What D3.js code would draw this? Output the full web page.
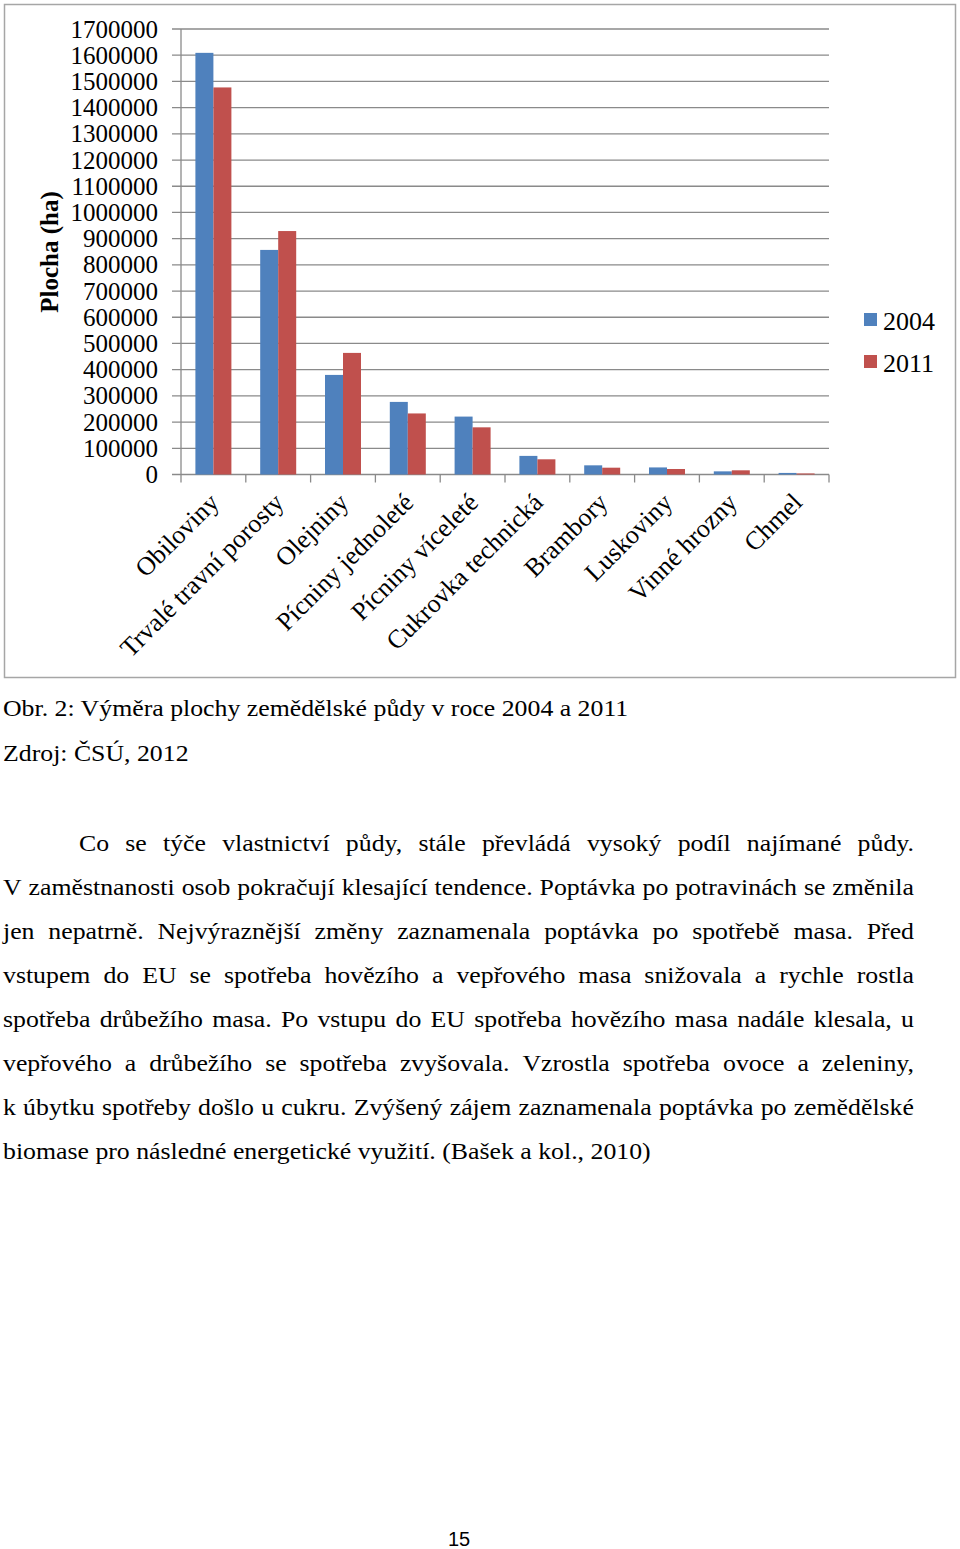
<!DOCTYPE html>
<html><head><meta charset="utf-8">
<script src="https://cdn.jsdelivr.net/npm/d3@7"></script>
<style>html,body{margin:0;padding:0;background:#fff;}svg{display:block;}</style>
</head><body>
<svg id="c" width="960" height="1549"></svg>
<script>
const categories = ["Obiloviny","Trvalé travní porosty","Olejniny","Pícniny jednoleté","Pícniny víceleté","Cukrovka technická","Brambory","Luskoviny","Vinné hrozny","Chmel"];
const series2004 = [1609000, 857000, 380000, 277000, 221000, 71000, 35000, 27000, 12000, 6000];
const series2011 = [1477000, 929000, 464000, 233000, 180000, 58000, 26000, 21000, 16000, 4000];
const seriesNames = ["2004","2011"];
const seriesColors = ["#4F81BD","#C0504D"];
const yTicks = d3.range(0, 1700001, 100000);
const yLabel = "Plocha (ha)";
const caption1 = "Obr. 2: Výměra plochy zemědělské půdy v roce 2004 a 2011";
const caption2 = "Zdroj: ČSÚ, 2012";
const paragraph = [
 "Co se týče vlastnictví půdy, stále převládá vysoký podíl najímané půdy.",
 "V zaměstnanosti osob pokračují klesající tendence. Poptávka po potravinách se změnila",
 "jen nepatrně. Nejvýraznější změny zaznamenala poptávka po spotřebě masa. Před",
 "vstupem do EU se spotřeba hovězího a vepřového masa snižovala a rychle rostla",
 "spotřeba drůbežího masa. Po vstupu do EU spotřeba hovězího masa nadále klesala, u",
 "vepřového a drůbežího se spotřeba zvyšovala. Vzrostla spotřeba ovoce a zeleniny,",
 "k úbytku spotřeby došlo u cukru. Zvýšený zájem zaznamenala poptávka po zemědělské",
 "biomase pro následné energetické využití. (Bašek a kol., 2010)"
];
const pageNumber = "15";

const svg = d3.select("#c");
const serif = "'Liberation Serif','Times New Roman',serif";
const SX = 1.075;

// chart frame
svg.append("rect").attr("x",4.5).attr("y",4.5).attr("width",951).attr("height",673)
  .attr("fill","#fff").attr("stroke","#a6a6a6").attr("stroke-width",1.5);

const x0 = 181, x1 = 829, yTop = 29, yBot = 474.5;
const x = d3.scaleBand().domain(categories).range([x0, x1]).paddingInner(0).paddingOuter(0);
const y = d3.scaleLinear().domain([0, 1700000]).range([yBot, yTop]);
const groupW = 36;
const xs = d3.scaleBand().domain(seriesNames).range([0, groupW]);

// grid
const g = svg.append("g");
g.selectAll("line.grid").data(yTicks).join("line")
  .attr("x1", x0 - 9).attr("x2", x1).attr("y1", d => y(d)).attr("y2", d => y(d))
  .attr("stroke", "#8a8a8a").attr("stroke-width", 1.3);

// bars
const data = categories.map((c,i) => ({c, v:[series2004[i], series2011[i]]}));
const grp = g.selectAll("g.cat").data(data).join("g")
  .attr("transform", d => `translate(${x(d.c) + (x.bandwidth()-groupW)/2},0)`);
grp.selectAll("rect").data(d => d.v.map((v,j)=>({v, s:seriesNames[j], j}))).join("rect")
  .attr("x", d => xs(d.s)).attr("width", xs.bandwidth())
  .attr("y", d => y(d.v)).attr("height", d => y(0) - y(d.v))
  .attr("fill", d => seriesColors[d.j]);

// y axis line
g.append("line").attr("x1", x0).attr("x2", x0).attr("y1", yTop).attr("y2", yBot)
  .attr("stroke", "#8a8a8a").attr("stroke-width", 1.3);
// x axis ticks
const xt = categories.map(c => x(c)).concat([x1]);
g.selectAll("line.xt").data(xt).join("line")
  .attr("x1", d => d).attr("x2", d => d).attr("y1", yBot).attr("y2", yBot + 8)
  .attr("stroke", "#8a8a8a").attr("stroke-width", 1.3);

// y tick labels
g.selectAll("text.yt").data(yTicks).join("text")
  .attr("x", 158).attr("y", d => y(d)).attr("dy", "0.34em")
  .attr("text-anchor", "end").attr("font-family", serif).attr("font-size", 25)
  .attr("fill", "#000").text(d => d);

// y label
svg.append("text").attr("transform", "translate(58,252) rotate(-90)")
  .attr("text-anchor", "middle").attr("font-family", serif).attr("font-size", 25)
  .attr("font-weight", "bold").text(yLabel);

// x labels
g.selectAll("text.xl").data(categories).join("text")
  .attr("transform", d => `translate(${x(d) + x.bandwidth()/2 + 7},504) rotate(-45)`)
  .attr("text-anchor", "end").attr("font-family", serif).attr("font-size", 26)
  .text(d => d);

// legend
const lg = svg.append("g");
seriesNames.forEach((s,i) => {
  lg.append("rect").attr("x", 864).attr("y", 313 + i*42).attr("width", 13).attr("height", 13).attr("fill", seriesColors[i]);
  lg.append("text").attr("x", 883).attr("y", 330 + i*42).attr("font-family", serif).attr("font-size", 26).text(s);
});

// captions (horizontally stretched like the scanned page)
svg.append("text").attr("transform", `translate(3,716) scale(${SX},1)`).attr("font-family", serif).attr("font-size", 24).text(caption1);
svg.append("text").attr("transform", `translate(3,761) scale(${SX},1)`).attr("font-family", serif).attr("font-size", 24).text(caption2);

// paragraph justified
const pg = svg.append("g").attr("font-family", serif).attr("font-size", 24);
const right = 914;
paragraph.forEach((line, i) => {
  const base = 851 + i*44;
  const left = i === 0 ? 79 : 3;
  if (i === paragraph.length - 1) {
    pg.append("text").attr("transform", `translate(${left},${base}) scale(${SX},1)`).text(line);
    return;
  }
  const words = line.split(" ");
  const els = words.map(w => pg.append("text").text(w));
  const widths = els.map(e => e.node().getComputedTextLength() * SX);
  const total = d3.sum(widths);
  const gap = (right - left - total) / (words.length - 1);
  let cx = left;
  els.forEach((e, k) => { e.attr("transform", `translate(${cx},${base}) scale(${SX},1)`); cx += widths[k] + gap; });
});

svg.append("text").attr("x", 459).attr("y", 1546).attr("text-anchor", "middle")
  .attr("font-family", "'Liberation Sans',Arial,sans-serif").attr("font-size", 20).text(pageNumber);
</script>
</body></html>
